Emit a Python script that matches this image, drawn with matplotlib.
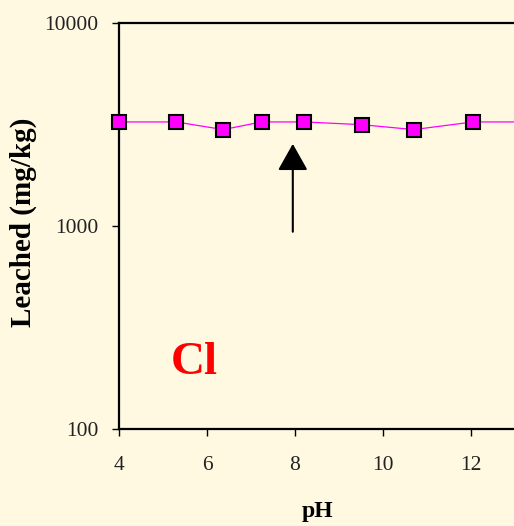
import matplotlib.pyplot as plt
from matplotlib.ticker import FixedLocator, NullLocator

ph = [4.0, 5.3, 6.37, 7.24, 8.21, 9.52, 10.7, 12.05, 14.0]
leached = [3250, 3250, 2980, 3250, 3250, 3150, 2980, 3250, 3250]
x_ticks = [4, 6, 8, 10, 12]
y_ticks = [100, 1000, 10000]
y_labels = ['100', '1000', '10000']

bg = '#fef9e0'
plt.rcParams['font.family'] = ['Liberation Serif', 'DejaVu Serif']

fig = plt.figure(figsize=(5.14, 5.26), dpi=100, facecolor=bg)
# axes runs past the right edge of the figure, like the reference crop
ax = fig.add_axes([119 / 514, 1 - 429.3 / 526, 440 / 514, 406.6 / 526])
ax.set_facecolor(bg)

ax.plot(ph, leached, color='#ff00ff', lw=0.9, marker='s', markersize=9.5,
        markerfacecolor='#ff00ff', markeredgecolor='black', markeredgewidth=1.5,
        clip_on=False, zorder=3)

ax.set_yscale('log')
ax.set_xlim(4, 14)
ax.set_ylim(100, 10000)
ax.xaxis.set_major_locator(FixedLocator(x_ticks))
ax.yaxis.set_major_locator(FixedLocator(y_ticks))
ax.yaxis.set_minor_locator(NullLocator())
ax.set_yticklabels(y_labels)

for s in ax.spines.values():
    s.set_linewidth(1.6)
ax.tick_params(direction='out', length=5, width=1, labelsize=15.5,
               labelcolor='#222222')
ax.tick_params(axis='x', pad=14)
ax.tick_params(axis='y', pad=10)

ax.annotate('', xy=(7.95, 2535), xytext=(7.95, 937),
            arrowprops=dict(arrowstyle='-|>,head_length=0.8,head_width=0.45',
                            mutation_scale=20.7, lw=1.5, color='black',
                            shrinkA=0, shrinkB=0))

ax.text(5.17, 187, 'Cl', color='red', fontsize=34, fontweight='bold',
        ha='left', va='baseline')

fig.text(23 / 514, 1 - 222 / 526, 'Leached (mg/kg)', rotation=90,
         ha='center', va='center', fontsize=21, fontweight='bold')
fig.text(317 / 514, 1 - 511 / 526, 'pH', ha='center', va='center',
         fontsize=17, fontweight='bold')

fig.savefig('out.png', dpi=100, facecolor=bg)
